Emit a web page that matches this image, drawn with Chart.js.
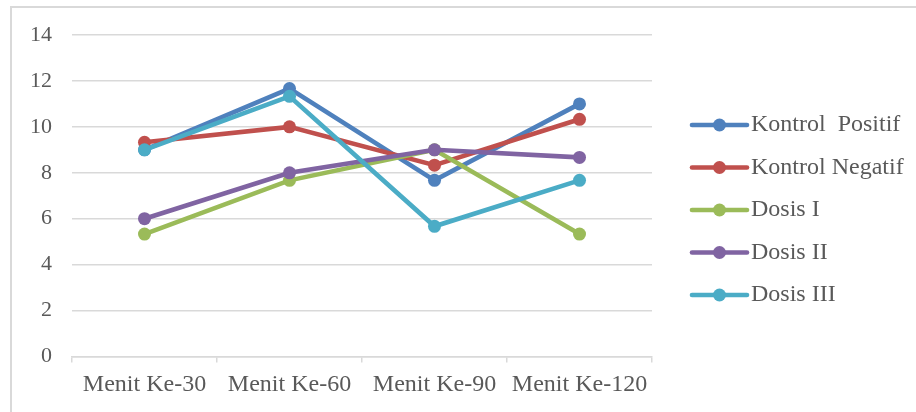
<!DOCTYPE html>
<html>
<head>
<meta charset="utf-8">
<script src="https://cdn.jsdelivr.net/npm/chart.js@4/dist/chart.umd.min.js"></script>
<style>
  html, body { margin: 0; padding: 0; background: #ffffff; }
  #wrap { position: relative; width: 916px; height: 412px; }
  canvas { display: block; }
</style>
</head>
<body>
<div id="wrap"><canvas id="chart" width="916" height="412"></canvas></div>
<script>
// Time points of the observation
const categories = ['Menit Ke-30', 'Menit Ke-60', 'Menit Ke-90', 'Menit Ke-120'];

// Mean values per group
const kontrolPositif = [9.0, 11.67, 7.67, 11.0];
const kontrolNegatif = [9.33, 10.0, 8.33, 10.33];
const dosisI = [5.33, 7.67, 9.0, 5.33];
const dosisII = [6.0, 8.0, 9.0, 8.67];
const dosisIII = [9.0, 11.33, 5.67, 7.67];

const seriesNames = ['Kontrol  Positif', 'Kontrol Negatif', 'Dosis I', 'Dosis II', 'Dosis III'];
const seriesValues = [kontrolPositif, kontrolNegatif, dosisI, dosisII, dosisIII];
const seriesColors = ['#4F81BD', '#C0504D', '#9BBB59', '#8064A2', '#4BACC6'];

// Y axis ticks
const yMin = 0;
const yMax = 14;
const yStep = 2;

const FONT = '"Liberation Serif", "Times New Roman", serif';
const TEXT = '#595959';
const GRID = '#D9D9D9';

const datasets = seriesNames.map((name, i) => ({
  label: name,
  data: seriesValues[i],
  borderColor: seriesColors[i],
  backgroundColor: seriesColors[i],
  borderWidth: 4.6,
  pointRadius: 6.5,
  pointHoverRadius: 6.5,
  pointBorderWidth: 0,
  pointBackgroundColor: seriesColors[i],
  tension: 0,
  fill: false,
  // later series are painted above earlier ones
  order: seriesNames.length - i
}));

// Outer frame of the chart object
const framePlugin = {
  id: 'frame',
  beforeDraw(chart) {
    const ctx = chart.ctx;
    ctx.save();
    ctx.strokeStyle = GRID;
    ctx.lineWidth = 2;
    ctx.beginPath();
    ctx.moveTo(11, 412);
    ctx.lineTo(11, 7);
    ctx.lineTo(916, 7);
    ctx.stroke();
    ctx.restore();
  }
};

// Legend on the right: line sample with a marker, then the series name
const sideLegend = {
  id: 'sideLegend',
  afterDraw(chart) {
    const ctx = chart.ctx;
    const x0 = 692, x1 = 747, mx = 719.5;
    const top = 125, gap = 42.5;
    ctx.save();
    chart.data.datasets.forEach((ds, i) => {
      const y = top + i * gap;
      ctx.strokeStyle = ds.borderColor;
      ctx.lineWidth = 4.6;
      ctx.lineCap = 'round';
      ctx.beginPath();
      ctx.moveTo(x0, y);
      ctx.lineTo(x1, y);
      ctx.stroke();
      ctx.fillStyle = ds.borderColor;
      ctx.beginPath();
      ctx.arc(mx, y, 6.5, 0, Math.PI * 2);
      ctx.fill();
      ctx.fillStyle = TEXT;
      ctx.font = '24px ' + FONT;
      ctx.textAlign = 'left';
      ctx.textBaseline = 'alphabetic';
      ctx.fillText(ds.label, 751, y + 6);
    });
    ctx.restore();
  }
};

new Chart(document.getElementById('chart'), {
  type: 'line',
  data: { labels: categories, datasets },
  plugins: [framePlugin, sideLegend],
  options: {
    responsive: false,
    animation: false,
    events: [],
    layout: { padding: { left: 0, right: 264, top: 35, bottom: 0 } },
    plugins: {
      legend: { display: false },
      tooltip: { enabled: false },
      title: { display: false }
    },
    scales: {
      x: {
        type: 'category',
        offset: true,
        afterFit(scale) { scale.height = 55.5; },
        grid: {
          offset: true,
          drawOnChartArea: false,
          drawTicks: true,
          tickLength: 6,
          color: GRID,
          lineWidth: 1.5
        },
        border: { display: true, color: GRID, width: 1.5 },
        ticks: {
          color: TEXT,
          font: { family: FONT, size: 24 },
          padding: 8,
          maxRotation: 0,
          autoSkip: false
        }
      },
      y: {
        min: yMin,
        max: yMax,
        afterFit(scale) { scale.width = 72; },
        grid: {
          color: GRID,
          lineWidth: 1.5,
          drawTicks: false
        },
        border: { display: false },
        ticks: {
          stepSize: yStep,
          color: TEXT,
          font: { family: FONT, size: 22 },
          padding: 20
        }
      }
    }
  }
});
</script>
</body>
</html>
